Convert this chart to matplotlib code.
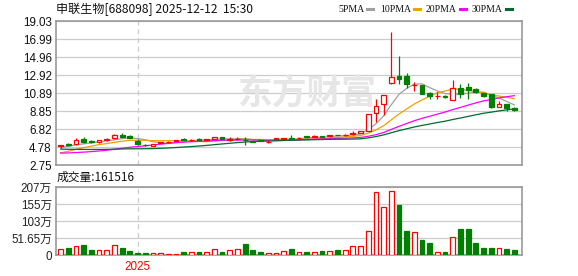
import matplotlib.pyplot as plt
from matplotlib.lines import Line2D
import numpy as np
import pandas as pd

plt.rcParams['font.family'] = ['Liberation Sans', 'Noto Sans CJK SC', 'DejaVu Sans']

# weekly candles, oldest first
opens = [4.85, 5.10, 5.12, 5.65, 5.45, 5.33, 5.62, 5.77, 6.14, 6.05,
         5.50, 5.05, 4.95, 5.28, 5.30, 5.47, 5.65, 5.58, 5.66, 5.58,
         5.72, 5.90, 5.62, 5.70, 5.63, 5.42, 5.55, 5.36, 5.72, 5.74,
         5.82, 5.75, 6.00, 5.92, 6.00, 6.00, 6.16, 6.10, 6.30, 6.42,
         6.60, 8.60, 9.60, 12.00, 12.85, 12.80, 11.75, 11.80, 10.90, 10.50,
         10.60, 10.10, 11.40, 11.60, 11.30, 10.85, 10.75, 9.35, 9.65, 9.15]
closes = [5.00, 5.05, 5.57, 5.31, 5.33, 5.57, 5.66, 6.14, 5.97, 5.80,
          5.12, 4.98, 5.08, 5.32, 5.40, 5.57, 5.57, 5.62, 5.60, 5.64,
          5.90, 5.72, 5.66, 5.74, 5.60, 5.38, 5.50, 5.40, 5.80, 5.80,
          5.74, 5.79, 5.90, 6.05, 5.92, 6.12, 6.13, 6.18, 6.35, 6.60,
          8.48, 9.40, 10.66, 12.70, 12.43, 11.90, 11.80, 10.80, 10.55, 10.55,
          10.45, 11.40, 10.80, 11.20, 10.97, 10.60, 9.30, 9.65, 9.15, 9.00]
highs = [5.02, 5.20, 5.77, 5.95, 5.55, 5.60, 5.77, 6.20, 6.33, 6.10,
         5.66, 5.10, 5.12, 5.40, 5.45, 5.60, 5.77, 5.72, 5.75, 5.70,
         5.92, 5.95, 5.95, 5.95, 5.90, 5.50, 5.58, 5.55, 5.82, 5.85,
         6.14, 5.90, 6.05, 6.10, 6.05, 6.15, 6.18, 6.28, 6.55, 6.62,
         8.55, 10.20, 10.70, 17.75, 15.07, 13.10, 12.10, 11.85, 10.95, 10.95,
         10.70, 12.36, 11.90, 12.05, 11.45, 10.90, 10.80, 9.95, 9.70, 9.30]
lows = [4.72, 4.95, 5.05, 5.25, 5.25, 5.28, 5.50, 5.72, 5.90, 5.75,
        4.97, 4.90, 4.90, 5.20, 5.25, 5.45, 5.52, 5.50, 5.55, 5.52,
        5.70, 5.70, 5.50, 5.62, 5.05, 5.30, 5.45, 5.27, 5.70, 5.70,
        5.70, 5.62, 5.85, 5.88, 5.88, 5.97, 6.10, 6.05, 6.10, 6.38,
        6.55, 7.65, 8.40, 11.95, 11.90, 11.40, 11.10, 10.75, 10.20, 10.20,
        10.35, 10.05, 10.30, 10.17, 10.90, 10.45, 9.25, 9.30, 8.90, 8.80]
# volume in 万
volumes = [18.3, 22.3, 27.4, 30.4, 15.2, 15.2, 15.2, 30.4, 21.3, 12.2,
           6.1, 6.1, 6.1, 6.1, 3.0, 3.0, 9.1, 9.1, 9.1, 9.1,
           18.3, 9.0, 15.2, 18.3, 33.5, 15.2, 9.1, 6.1, 6.1, 12.2,
           18.3, 10.0, 8.0, 10.0, 12.2, 11.0, 14.2, 14.2, 28.4, 26.4,
           72.0, 190.8, 145.0, 194.0, 152.0, 73.0, 69.0, 45.7, 36.5, 8.1,
           9.0, 53.9, 79.0, 79.0, 36.5, 21.3, 21.3, 21.3, 18.3, 15.2]
# closes of the 29 weeks before the window (needed for the moving averages)
prev_closes = [5.8, 5.7, 5.6, 5.5, 5.5, 5.4, 5.4, 5.3, 5.2, 5.1,
               4.8, 4.6, 4.4, 4.2, 4.1, 4.0, 3.9, 3.7, 3.6, 3.45,
               3.3, 3.35, 3.4, 3.6, 3.85, 4.5, 4.7, 4.8, 4.75]

price_ticks = [2.75, 4.78, 6.82, 8.85, 10.89, 12.92, 14.96, 16.99, 19.03]
vol_ticks = [0, 51.65, 103, 155, 207]
vol_labels = ['0', '51.65万', '103万', '155万', '207万']
year_idx = 10
year_label = '2025'

RED = '#ff0000'
GREEN = '#008000'
ma_periods = [5, 10, 20, 30]
ma_colors = ['#a0a0a0', '#f0a000', '#ff00ff', '#006b2e']

n = len(closes)
x = np.arange(n)
o = np.array(opens)
c = np.array(closes)
up = c >= o

all_close = pd.Series(prev_closes + closes)
mas = {p: all_close.rolling(p).mean().values[len(prev_closes):] for p in ma_periods}

fig = plt.figure(figsize=(5.78, 2.76), dpi=100)
W, H = 578, 276
ax = fig.add_axes([56 / W, 1 - 165 / H, 466 / W, 144 / H])
axv = fig.add_axes([56 / W, 1 - 255 / H, 466 / W, 68 / H])

for a in (ax, axv):
    a.set_xlim(-0.6, 60.0)
    for s in a.spines.values():
        s.set_color('#999999')
        s.set_linewidth(1.2)
    a.tick_params(length=0, pad=3)
    a.set_xticks([])
    a.axvline(year_idx, color='#cccccc', lw=0.9, ls=(0, (4, 3)), zorder=1)

# price panel
ax.set_ylim(price_ticks[0], price_ticks[-1])
ax.set_yticks(price_ticks)
ax.set_yticklabels(['%.2f' % v for v in price_ticks], fontsize=8.4, color='#111111')
for t in price_ticks:
    ax.axhline(t, color='#cccccc', lw=0.9, zorder=0)

ax.text(0.54, 0.5, '东方财富', transform=ax.transAxes, fontsize=25, fontweight='bold',
        family=['Noto Sans CJK SC'], color='#e6e6e6', ha='center', va='center', zorder=0)

colors = np.where(up, RED, GREEN)
ax.vlines(x, lows, highs, colors=colors, lw=0.9, zorder=3)
body_bottom = np.minimum(o, c)
body_h = np.maximum(np.abs(c - o), 0.03)
ax.bar(x, body_h, bottom=body_bottom, width=0.62,
       facecolor=np.where(up, 'white', GREEN), edgecolor=colors, lw=0.9, zorder=4)

for p, col in zip(ma_periods, ma_colors):
    ax.plot(x, mas[p], color=col, lw=0.9, zorder=2)

# volume panel
axv.set_ylim(0, vol_ticks[-1])
axv.set_yticks(vol_ticks)
axv.set_yticklabels(vol_labels, fontsize=8.4, color='#222222')
for t in vol_ticks[1:]:
    axv.axhline(t, color='#cccccc', lw=0.9, zorder=0)
axv.bar(x, volumes, width=0.62, facecolor=np.where(up, 'white', GREEN),
        edgecolor=colors, lw=0.9, zorder=3)

# texts
fig.text(56 / W, 1 - 9 / H, '申联生物[688098] 2025-12-12  15:30', fontsize=8.7,
         family=['Noto Sans CJK SC'], va='center', ha='left', color='#111111')
fig.text(57 / W, 1 - 177 / H, '成交量:161516', fontsize=8.5,
         family=['Noto Sans CJK SC'], va='center', ha='left', color='#111111')
fig.text((56 + (year_idx + 0.6) * 466 / 60.6) / W, 1 - 267 / H, year_label,
         fontsize=8.4, color=RED, ha='center', va='center')

# legend: label then a short colour dash right after it
renderer = fig.canvas.get_renderer()
leg_x = [338, 380, 426, 472]
for i, p in enumerate(ma_periods):
    tx = fig.text(leg_x[i] / W, 1 - 9 / H, '%dPMA' % p, fontsize=7.0,
                  family=['Liberation Serif'], va='center', ha='left', color='#111111')
    end = tx.get_window_extent(renderer).x1
    dash_x = end + 3
    fig.add_artist(Line2D([dash_x / W, (dash_x + 6) / W], [1 - 9 / H, 1 - 9 / H],
                          color=ma_colors[i], lw=2.2, transform=fig.transFigure))

fig.savefig('out.png', dpi=100)
